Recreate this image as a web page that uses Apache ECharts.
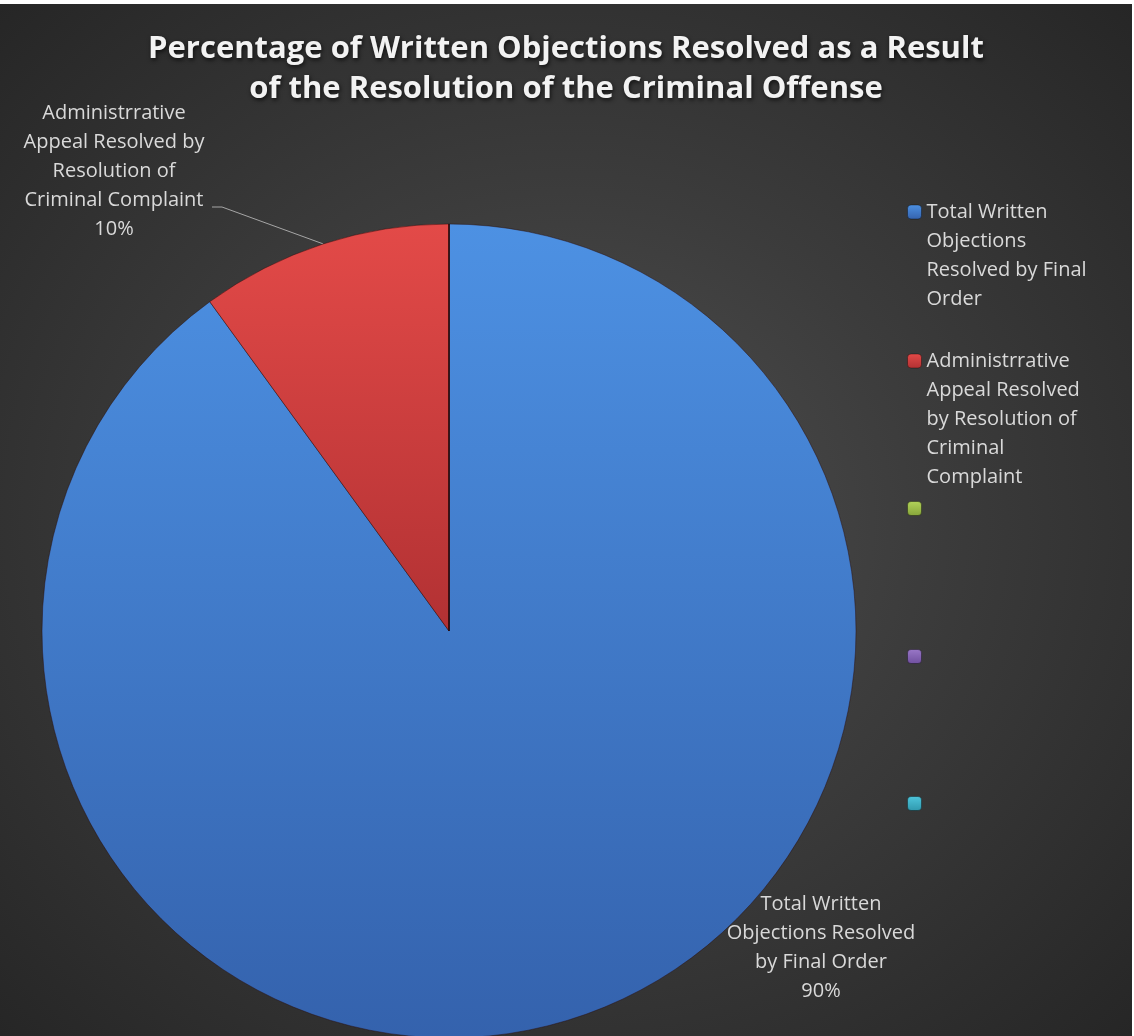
<!DOCTYPE html>
<html>
<head>
<meta charset="utf-8">
<script src="https://cdn.jsdelivr.net/npm/echarts@6/dist/echarts.min.js"></script>
<style>
  html, body { margin: 0; padding: 0; background: #ffffff; width: 1134px; height: 1036px; overflow: hidden; }
  #chart { position: absolute; left: 0; top: 4px; width: 1132px; height: 1032px;
    background: radial-gradient(ellipse farthest-corner at 50% 50%, #505050 0%, #3c3c3c 45%, #262626 100%); }
</style>
</head>
<body>
<div id="chart"></div>
<script>
// ---- data ----
const categories = [
  'Total Written Objections Resolved by Final Order',
  'Administrrative Appeal Resolved by Resolution of Criminal Complaint',
  'Series 3',
  'Series 4',
  'Series 5'
];
const values = [90, 10, 0, 0, 0];
const labelText = [
  'Total Written\nObjections Resolved\nby Final Order',
  'Administrrative\nAppeal Resolved by\nResolution of\nCriminal Complaint',
  '', '', ''
];
const legendText = [
  'Total Written\nObjections\nResolved by Final\nOrder',
  'Administrrative\nAppeal Resolved\nby Resolution of\nCriminal\nComplaint',
  '', '', ''
];

// ---- styles ----
const colorPairs = [
  ['#4d91e3', '#3462ad'],
  ['#e34a48', '#b23133'],
  ['#b3d45a', '#86a53a'],
  ['#9a78c8', '#6f4f9e'],
  ['#4fc6dc', '#2f98ad']
];
function grad(i) {
  return new echarts.graphic.LinearGradient(0, 0, 0, 1, [
    { offset: 0, color: colorPairs[i][0] },
    { offset: 1, color: colorPairs[i][1] }
  ]);
}
const FONT = '"Open Sans", "Noto Sans", sans-serif';
const LH = 29;
const legendIconCenters = [208, 357, 504, 652, 799];

const chart = echarts.init(document.getElementById('chart'));

const data = categories.map((name, i) => ({
  name: name,
  value: values[i],
  itemStyle: { color: grad(i) },
  label: { show: values[i] > 0 },
  labelLine: { show: i === 1 }
}));

const legends = categories.map((name, i) => {
  const n = legendText[i] ? legendText[i].split('\n').length : 0;
  const boxH = n > 0 ? (2 * n - 1) * LH : 14;
  // leading empty lines put the first text line level with the icon
  const shown = n > 0 ? '\n'.repeat(n - 1) + legendText[i] : '';
  return {
    orient: 'vertical',
    left: 907,
    top: legendIconCenters[i] - boxH / 2,
    padding: 0,
    itemWidth: 14,
    itemHeight: 14,
    selectedMode: false,
    data: [name],
    formatter: () => shown,
    textStyle: {
      color: '#d9d9d9',
      fontFamily: FONT,
      fontSize: 20,
      lineHeight: LH
    },
    itemStyle: { borderColor: 'rgba(0,0,0,0.35)', borderWidth: 1 }
  };
});

const labelPos = [
  { x: 821, y: 944 },
  { x: 114, y: 167 }
];

chart.setOption({
  backgroundColor: 'transparent',
  animation: false,
  title: {
    text: 'Percentage of Written Objections Resolved as a Result\nof the Resolution of the Criminal Offense',
    left: 'center',
    top: 20,
    textStyle: {
      color: '#f2f2f2',
      fontFamily: FONT,
      fontWeight: 'bold',
      fontSize: 31,
      lineHeight: 40,
      textShadowColor: 'rgba(0,0,0,0.7)',
      textShadowBlur: 4,
      textShadowOffsetX: 1,
      textShadowOffsetY: 2
    }
  },
  legend: legends,
  series: [{
    type: 'pie',
    center: [449, 627],
    radius: 407,
    startAngle: 90,
    clockwise: true,
    avoidLabelOverlap: false,
    data: data,
    itemStyle: { borderColor: 'rgba(40,10,10,0.45)', borderWidth: 1 },
    emphasis: { disabled: true },
    label: {
      position: 'outside',
      color: '#d9d9d9',
      fontFamily: FONT,
      fontSize: 20,
      lineHeight: LH,
      align: 'center',
      formatter: p => labelText[p.dataIndex] + '\n' + p.percent.toFixed(0) + '%'
    },
    labelLine: { lineStyle: { color: '#a6a6a6', width: 1 } },
    labelLayout: function (params) {
      const i = params.dataIndex;
      if (i > 1) return {};
      const pos = labelPos[i];
      const out = { x: pos.x, y: pos.y, align: 'center', verticalAlign: 'middle' };
      if (i === 1 && params.labelLinePoints) {
        const p0 = params.labelLinePoints[0];
        const endX = pos.x + 98, endY = pos.y + 36;
        out.labelLinePoints = [p0, [endX + 10, endY], [endX, endY]];
      }
      return out;
    }
  }]
});
</script>
</body>
</html>
